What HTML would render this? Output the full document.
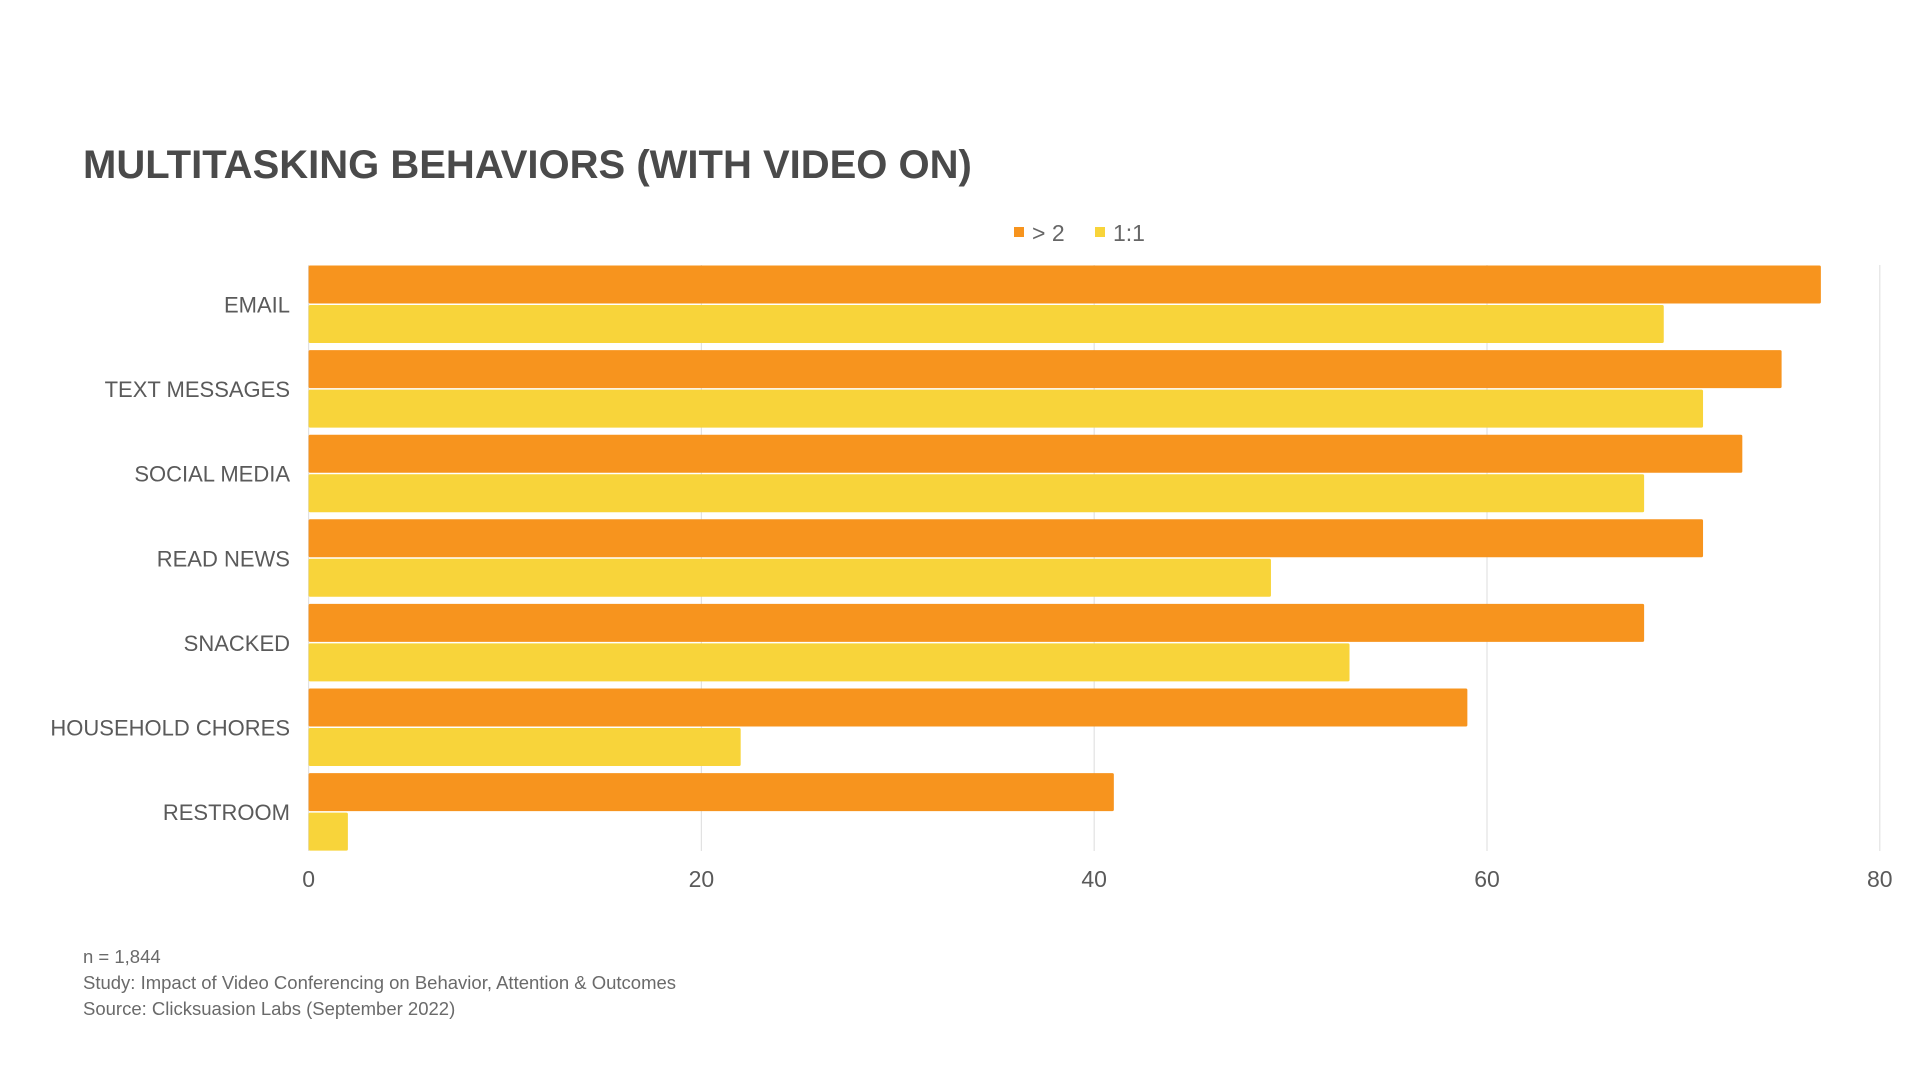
<!DOCTYPE html>
<html><head><meta charset="utf-8"><style>
html,body{margin:0;padding:0;background:#fff;}
svg{display:block;}
text{font-family:"Liberation Sans",sans-serif;}
</style></head><body>
<svg width="1920" height="1080" viewBox="0 0 1920 1080" xmlns="http://www.w3.org/2000/svg">
<rect width="1920" height="1080" fill="#fff"/>
<text x="83" y="178" font-size="40" font-weight="bold" fill="#4a4a4a" letter-spacing="0">MULTITASKING BEHAVIORS (WITH VIDEO ON)</text>
<rect x="1014" y="227" width="10" height="10" fill="#f7941e"/>
<text x="1032" y="241" font-size="23" fill="#666">&gt; 2</text>
<rect x="1095" y="227" width="10" height="10" fill="#f8d43a"/>
<text x="1113" y="241" font-size="23" fill="#666">1:1</text>
<g stroke="#e2e2e2" stroke-width="1.2">
<line x1="308.6" y1="265" x2="308.6" y2="851"/>
<line x1="701.4" y1="265" x2="701.4" y2="851"/>
<line x1="1094.2" y1="265" x2="1094.2" y2="851"/>
<line x1="1487" y1="265" x2="1487" y2="851"/>
<line x1="1879.8" y1="265" x2="1879.8" y2="851"/>
</g>
<g id="bars"></g>
<g font-size="22" fill="#5a5a5a" text-anchor="end" id="labels"></g>
<g font-size="23" fill="#5a5a5a" text-anchor="middle">
<text x="308.6" y="887">0</text>
<text x="701.4" y="887">20</text>
<text x="1094.2" y="887">40</text>
<text x="1487" y="887">60</text>
<text x="1879.8" y="887">80</text>
</g>
<g font-size="18.5" fill="#6a6a6a">
<text x="83" y="963">n = 1,844</text>
<text x="83" y="989">Study: Impact of Video Conferencing on Behavior, Attention &amp; Outcomes</text>
<text x="83" y="1015">Source: Clicksuasion Labs (September 2022)</text>
</g>
<script>
var d=[["EMAIL",77,69],["TEXT MESSAGES",75,71],["SOCIAL MEDIA",73,68],["READ NEWS",71,49],["SNACKED",68,53],["HOUSEHOLD CHORES",59,22],["RESTROOM",41,2]];
var ns="http://www.w3.org/2000/svg",b=document.getElementById("bars"),l=document.getElementById("labels");
var x0=308.6,u=19.64,top0=265.5,pitch=84.6,bh=38;
d.forEach(function(r,i){var y=top0+i*pitch;
[[r[1],y,"#f7941e"],[r[2],y+bh+1.5,"#f8d43a"]].forEach(function(q){var e=document.createElementNS(ns,"rect");
e.setAttribute("x",x0);e.setAttribute("y",q[1]);e.setAttribute("width",q[0]*u);e.setAttribute("height",bh);e.setAttribute("fill",q[2]);e.setAttribute("rx","1.5");b.appendChild(e);});
var t=document.createElementNS(ns,"text");t.setAttribute("x",290);t.setAttribute("y",y+bh+9);t.textContent=r[0];l.appendChild(t);});
</script>
</svg>
</body></html>
